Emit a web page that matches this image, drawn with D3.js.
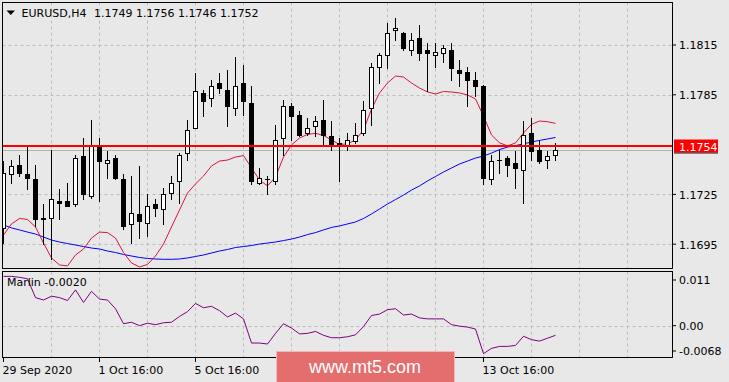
<!DOCTYPE html>
<html><head><meta charset="utf-8">
<script src="https://cdnjs.cloudflare.com/ajax/libs/d3/7.8.5/d3.min.js"></script>
<style>
html,body{margin:0;padding:0;background:#e8e8e8;}
svg{display:block;}
text{font-family:"DejaVu Sans",sans-serif;font-size:11px;fill:#000;}
</style></head><body>
<svg id="c" width="729" height="382"></svg>
<script>
const symbol = "EURUSD,H4";
const lastOHLC = ["1.1749","1.1756","1.1746","1.1752"];

const opens = [1.1705,1.1737,1.1743,1.1737,1.1734,1.1711,1.1711,1.1721,1.1721,1.1719,
1.1748,1.1724,1.1754,1.1744,1.1747,1.1734,1.1707,1.1713,1.1708,1.1719,
1.1716,1.1726,1.1733,1.1750,1.1765,1.1786,1.1783,1.1792,1.1788,1.1777,
1.1792,1.1780,1.1732,1.1734,1.1733,1.1759,1.1778,1.1773,1.1762,1.1766,
1.1770,1.1760,1.1756,1.1755,1.1757,1.1762,1.1777,1.1802,1.1809,1.1824,
1.1822,1.1812,1.1819,1.1812,1.1809,1.1810,1.1812,1.1800,1.1799,1.1794,
1.1790,1.1734,1.1746,1.1747,1.1744,1.1740,1.1762,1.1752,1.1746,1.1749];
const highs = [1.1745,1.1746,1.1749,1.1755,1.1743,1.1719,1.1752,1.1728,1.1732,1.1749,
1.1759,1.1770,1.1759,1.1751,1.1749,1.1737,1.1736,1.1742,1.1725,1.1722,
1.1729,1.1736,1.1750,1.1770,1.1798,1.1788,1.1794,1.1798,1.1800,1.1808,
1.1803,1.1790,1.1741,1.1736,1.1767,1.1782,1.1780,1.1775,1.1771,1.1772,
1.1782,1.1769,1.1759,1.1762,1.1768,1.1781,1.1804,1.1810,1.1828,1.1831,
1.1823,1.1822,1.1827,1.1816,1.1816,1.1815,1.1816,1.1806,1.1802,1.1799,
1.1791,1.1749,1.1752,1.1748,1.1751,1.1769,1.1771,1.1758,1.1751,1.1756];
const lows = [1.1696,1.1732,1.1736,1.1728,1.1706,1.1695,1.1686,1.1710,1.1718,1.1718,
1.1722,1.1723,1.1721,1.1735,1.1734,1.1704,1.1696,1.1699,1.1700,1.1712,
1.1707,1.1722,1.1720,1.1746,1.1765,1.1772,1.1778,1.1786,1.1766,1.1773,
1.1773,1.1731,1.1731,1.1725,1.1731,1.1749,1.1758,1.1760,1.1761,1.1760,
1.1755,1.1752,1.1733,1.1752,1.1756,1.1761,1.1767,1.1792,1.1801,1.1818,
1.1812,1.1809,1.1806,1.1787,1.1802,1.1805,1.1794,1.1790,1.1778,1.1784,
1.1731,1.1731,1.1738,1.1736,1.1729,1.1720,1.1746,1.1744,1.1741,1.1746];
const closes = [1.1738,1.1742,1.1738,1.1735,1.1710,1.1710,1.1722,1.1720,1.1718,1.1747,
1.1725,1.1755,1.1745,1.1746,1.1735,1.1706,1.1714,1.1709,1.1718,1.1717,
1.1725,1.1732,1.1749,1.1764,1.1787,1.1781,1.1790,1.1789,1.1778,1.1790,
1.1781,1.1733,1.1735,1.1734,1.1758,1.1778,1.1772,1.1761,1.1765,1.1769,
1.1761,1.1755,1.1754,1.1758,1.1761,1.1776,1.1802,1.1809,1.1822,1.1825,
1.1813,1.1818,1.1810,1.1810,1.1811,1.1813,1.1801,1.1798,1.1794,1.1790,
1.1735,1.1745,1.1746,1.1743,1.1741,1.1761,1.1751,1.1745,1.1748,1.1752];

const maFast = [1.17005,1.17072,1.17105,1.17099,1.17054,1.16957,1.16867,1.16825,1.16819,1.16885,
1.16921,1.16987,1.17023,1.17020,1.16987,1.16900,1.16837,1.16813,1.16828,1.16879,
1.16951,1.17054,1.17156,1.17258,1.17313,1.17361,1.17421,1.17451,1.17457,1.17475,
1.17484,1.17409,1.17337,1.17301,1.17355,1.17475,1.17548,1.17590,1.17611,1.17618,
1.17605,1.17578,1.17551,1.17554,1.17578,1.17638,1.17764,1.17861,1.17921,1.17963,
1.17957,1.17921,1.17891,1.17867,1.17855,1.17870,1.17867,1.17861,1.17849,1.17825,
1.17722,1.17608,1.17561,1.17542,1.17560,1.17620,1.17672,1.17692,1.17688,1.17678];
const maSlow = [1.17066,1.17048,1.17036,1.17023,1.17011,1.16993,1.16975,1.16963,1.16954,1.16945,
1.16936,1.16927,1.16921,1.16909,1.16900,1.16888,1.16879,1.16870,1.16864,1.16861,
1.16859,1.16859,1.16861,1.16867,1.16876,1.16885,1.16897,1.16909,1.16918,1.16930,
1.16936,1.16942,1.16951,1.16957,1.16963,1.16972,1.16981,1.16993,1.17008,1.17020,
1.17036,1.17051,1.17060,1.17072,1.17084,1.17105,1.17132,1.17162,1.17192,1.17219,
1.17246,1.17276,1.17301,1.17331,1.17358,1.17385,1.17409,1.17433,1.17451,1.17469,
1.17481,1.17499,1.17520,1.17535,1.17544,1.17554,1.17566,1.17575,1.17584,1.17593];
const marlin = [0.0102,0.0102,0.0100,0.0097,0.0058,0.0053,0.0061,0.0058,0.0052,0.0074,
0.0048,0.0071,0.0055,0.0053,0.0035,0.0004,0.0007,0.0000,0.0005,0.0002,
0.0006,0.0007,0.0019,0.0029,0.0046,0.0037,0.0040,0.0031,0.0018,0.0026,
0.0014,-0.0036,-0.0036,-0.0038,-0.0016,0.0004,-0.0005,-0.0017,-0.0016,-0.0012,
-0.0020,-0.0025,-0.0025,-0.0023,-0.0019,-0.0002,0.0021,0.0024,0.0033,0.0035,
0.0022,0.0024,0.0016,0.0014,0.0014,0.0014,0.0002,-0.0001,-0.0003,-0.0007,
-0.0058,-0.0047,-0.0043,-0.0043,-0.0041,-0.0022,-0.0029,-0.0032,-0.0026,-0.0020];

const priceTicks = [1.1815,1.1785,1.1755,1.1725,1.1695];
const levelPrice = 1.1754;
const levelLabel = "1.1754";
const bidPrice = 1.1752;
const marlinTicks = [0.011,0,-0.0068];
const marlinTickLabels = ["0.011","0.00","-0.0068"];
// labels for 7 Oct 16:00 and 9 Oct 16:00 lie under the watermark in the reference
const timeTickBars = [0,12,24,60];
const timeTickLabels = ["29 Sep 2020","1 Oct 16:00","5 Oct 16:00","13 Oct 16:00"];
const indicatorName = "Marlin";
const indicatorValue = "-0.0020";
const watermark = "www.mt5.com";

// layout
const L = 2.5, R = 672.5, mTop = 2.5, mBot = 268.5, sTop = 271.5, sBot = 357.5;
const svg = d3.select("#c");
const x = d3.scaleLinear().domain([0,1]).range([3.5,11.5]);
const y = d3.scaleLinear().domain([1.1695,1.1815]).range([244.2,45]);
const ys = d3.scaleLinear().domain([-0.0068,0.011]).range([358.5,272.5]);
const crisp = v => Math.round(v) + 0.5;

svg.append("rect").attr("width",729).attr("height",382).attr("fill","#e8e8e8");

const defs = svg.append("defs");
defs.append("clipPath").attr("id","cm").append("rect").attr("x",3).attr("y",3).attr("width",669).attr("height",265);
defs.append("clipPath").attr("id","cs").append("rect").attr("x",3).attr("y",272).attr("width",669).attr("height",85);

const gridColor = "#bcbcbc";
const gridBars = d3.range(6, 84, 6);

// main panel grid
const gm = svg.append("g").attr("clip-path","url(#cm)");
gm.selectAll("line.vg").data(gridBars).join("line")
  .attr("x1",d=>x(d)).attr("x2",d=>x(d)).attr("y1",mTop).attr("y2",mBot)
  .attr("stroke",gridColor).attr("stroke-dasharray","3,3");
gm.selectAll("line.hg").data(priceTicks).join("line")
  .attr("x1",L).attr("x2",R).attr("y1",d=>crisp(y(d))).attr("y2",d=>crisp(y(d)))
  .attr("stroke",gridColor).attr("stroke-dasharray","3,3");

// sub panel grid
const gs = svg.append("g").attr("clip-path","url(#cs)");
gs.selectAll("line.vg").data(gridBars).join("line")
  .attr("x1",d=>x(d)).attr("x2",d=>x(d)).attr("y1",sTop).attr("y2",sBot)
  .attr("stroke",gridColor).attr("stroke-dasharray","3,3");
gs.append("line").attr("x1",L).attr("x2",R).attr("y1",crisp(ys(0))).attr("y2",crisp(ys(0)))
  .attr("stroke",gridColor).attr("stroke-dasharray","3,3");

// bid line
gm.append("line").attr("x1",L).attr("x2",R).attr("y1",crisp(y(bidPrice))).attr("y2",crisp(y(bidPrice)))
  .attr("stroke","#b4b4b4").attr("stroke-width",1);

// moving averages
const lineGen = d3.line().x((d,i)=>x(i)).y(d=>y(d));
gm.append("path").datum(maSlow).attr("d",lineGen).attr("fill","none").attr("stroke","#0000ff").attr("stroke-width",1);
gm.append("path").datum(maFast).attr("d",lineGen).attr("fill","none").attr("stroke","#dc143c").attr("stroke-width",1);

// candles
const candles = opens.map((o,i)=>({i,o,h:highs[i],l:lows[i],c:closes[i]}));
const cg = gm.append("g");
candles.forEach(d=>{
  const cx = x(d.i);
  cg.append("line").attr("x1",cx).attr("x2",cx)
    .attr("y1",Math.round(y(d.h))).attr("y2",Math.round(y(d.l))+1)
    .attr("stroke","#000").attr("stroke-width",1);
  const top = Math.round(y(Math.max(d.o,d.c)));
  const bot = Math.round(y(Math.min(d.o,d.c)));
  if (bot - top < 1) {
    cg.append("line").attr("x1",cx-2.5).attr("x2",cx+2.5).attr("y1",top+0.5).attr("y2",top+0.5)
      .attr("stroke","#000").attr("stroke-width",1);
  } else {
    cg.append("rect").attr("x",cx-2).attr("y",top+0.5).attr("width",4).attr("height",bot-top)
      .attr("fill", d.c >= d.o ? "#ffffff" : "#000000").attr("stroke","#000").attr("stroke-width",1);
  }
});

// level line
gm.append("line").attr("x1",L).attr("x2",R).attr("y1",Math.round(y(levelPrice))).attr("y2",Math.round(y(levelPrice)))
  .attr("stroke","#ff0000").attr("stroke-width",2);

// marlin line
const mLine = d3.line().x((d,i)=>x(i)).y(d=>ys(d));
gs.append("path").datum(marlin).attr("d",mLine).attr("fill","none").attr("stroke","#800080").attr("stroke-width",1);

// frames
svg.append("rect").attr("x",L).attr("y",mTop).attr("width",R-L).attr("height",mBot-mTop)
  .attr("fill","none").attr("stroke","#000");
svg.append("rect").attr("x",L).attr("y",sTop).attr("width",R-L).attr("height",sBot-sTop)
  .attr("fill","none").attr("stroke","#000");

// header
svg.append("path").attr("d","M6.5,10.5 L15,10.5 L10.75,15 Z").attr("fill","#000");
svg.append("text").attr("x",21.5).attr("y",16.5).text(symbol);
svg.append("text").attr("x",94).attr("y",16.5).text(lastOHLC.join(" "));

// price axis (the tick hidden by the level label is not labelled)
const ly = y(levelPrice);
const labelledPriceTicks = priceTicks.filter(v => Math.abs(y(v) - ly) > 10);
const pa = svg.append("g").attr("transform","translate(672,0)")
  .call(d3.axisRight(y).tickValues(labelledPriceTicks).tickFormat(d3.format(".4f")).tickSize(4).tickPadding(3).offset(0));
pa.select(".domain").remove();
pa.selectAll("line").attr("stroke","#000");
pa.selectAll("text").attr("dy","0.4em").attr("font-family","DejaVu Sans").attr("font-size",11).attr("fill","#000");

// level label
svg.append("rect").attr("x",674).attr("y",Math.round(ly)-6.5).attr("width",44).attr("height",13).attr("fill","#ff0000");
svg.append("line").attr("x1",674).attr("x2",718).attr("y1",Math.round(ly)+7).attr("y2",Math.round(ly)+7).attr("stroke","#400000").attr("stroke-width",1.2);
svg.append("text").attr("x",679).attr("y",ly).attr("dy","0.4em").style("fill","#ffffff").text(levelLabel);

// sub axis
const sa = svg.append("g").attr("transform","translate(672,0)")
  .call(d3.axisRight(ys).tickValues(marlinTicks).tickFormat((d,i)=>marlinTickLabels[i]).tickSize(4).tickPadding(3).offset(0));
sa.select(".domain").remove();
sa.selectAll(".tick").attr("transform", d => {
  const v = Math.max(sTop + 8.5, Math.min(sBot - 6.5, ys(d)));
  return `translate(0,${v})`;
});
sa.selectAll("line").attr("stroke","#000");
sa.selectAll("text").attr("dy","0.4em").attr("font-family","DejaVu Sans").attr("font-size",11).attr("fill","#000");

svg.append("text").attr("x",7).attr("y",286).text(indicatorName + " " + indicatorValue);

// time axis
const ta = svg.append("g").attr("transform","translate(0,358)")
  .call(d3.axisBottom(x).tickValues(timeTickBars).tickFormat((d,i)=>timeTickLabels[i]).tickSize(4).tickPadding(4).offset(0));
ta.select(".domain").remove();
ta.selectAll("line").attr("stroke","#000");
ta.selectAll("text").attr("text-anchor","start").attr("x",-1)
  .attr("font-family","DejaVu Sans").attr("font-size",11).attr("fill","#000");

// watermark
svg.append("rect").attr("x",276.5).attr("y",351.5).attr("width",178).attr("height",31)
  .attr("fill","#e46e6e").attr("stroke","#f2b8b8").attr("stroke-width",1);
svg.append("text").attr("x",365).attr("y",373).attr("text-anchor","middle")
  .style("font-family","'Liberation Sans',Arial,sans-serif").style("font-size","18px").style("fill","#ffffff")
  .text(watermark);
</script>
</body></html>
